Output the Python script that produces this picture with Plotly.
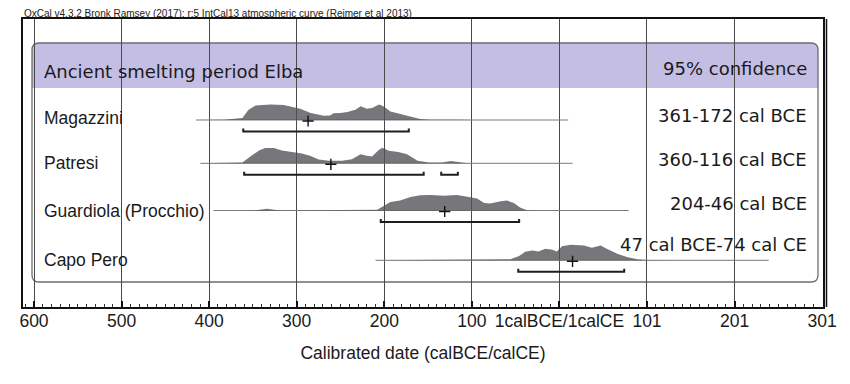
import plotly.graph_objects as go

# ---------------- data ----------------
sites = ["Magazzini", "Patresi", "Guardiola (Procchio)", "Capo Pero"]
range_labels = ["361-172 cal BCE", "360-116 cal BCE", "204-46 cal BCE", "47 cal BCE-74 cal CE"]

tick_vals = [-600, -500, -400, -300, -200, -100, 0, 100, 200, 300]
tick_text = ["600", "500", "400", "300", "200", "100", "1calBCE/1calCE", "101", "201", "301"]

# calibrated probability distributions (year: negative = BCE), relative probability
mag_years = [-415, -383, -362, -355, -347, -330, -315, -303, -296, -284, -269, -262, -258, -250,
             -242, -233, -227, -220, -214, -206, -201, -193, -182, -170, -159, -147, -130, -115, -100]
mag_prob = [0, 0.3, 2, 10, 14, 15, 14.5, 12.5, 11, 6.7, 4, 4.3, 6.5, 6.8,
            7.7, 10, 13.3, 11, 11.7, 15, 13.3, 8.3, 5.7, 3.3, 1, 0.3, 0.5, 0.3, 0]

pat_years = [-410, -362, -351, -343, -336, -326, -317, -305, -294, -284, -275, -263, -248, -237,
             -227, -220, -214, -206, -202, -195, -184, -174, -162, -149, -134, -124, -115, -105]
pat_prob = [0, 0.7, 8.3, 13.3, 15.7, 15.7, 13.3, 11.7, 10, 7.5, 4, 2.7, 2.7, 4.3,
            9.3, 7.7, 7, 14, 16, 13, 11.7, 9.3, 2.7, 0.7, 0.7, 2.3, 1, 0]

gua_years = [-395, -349, -334, -319, -208, -201, -193, -182, -170, -159, -147, -132, -117, -105,
             -94, -86, -79, -67, -60, -52, -45, -37, -30]
gua_prob = [0, 0, 1.7, 0, 0.7, 4, 8.3, 9.7, 13, 14.7, 15, 14.3, 15, 13.3,
            11.7, 7.3, 6.7, 9, 9.7, 7.3, 3, 0.3, 0]

cap_years = [-210, -102, -56, -46, -39, -31, -24, -16, -8, -3, 3, 13, 28, 37, 47, 54, 66, 77, 89,
             100, 120, 135]
cap_prob = [0, 0.3, 1, 4.3, 8.7, 10, 9, 11.7, 10.7, 9, 14.3, 15.7, 15, 12.7, 15, 11.7, 6.7, 3.3, 1,
            0.3, 0.2, 0]

curve_years = [mag_years, pat_years, gua_years, cap_years]
curve_probs = [mag_prob, pat_prob, gua_prob, cap_prob]
curve_start = [-415, -410, -395, -210]
curve_end = [10, 15, 79, 239]
hpd_ranges = [[(-361, -172)], [(-360, -155), (-135, -116)], [(-204, -46)], [(-47, 74)]]
means = [-287, -261, -131, 15]

# ---------------- layout helpers (pixel geometry) ----------------
W, H = 850, 384
L, R, T, B = 23, 823, 19, 307
PX_PER_YEAR = (R - 34) / 901.0
ZERO_PX = 34 + 600 * PX_PER_YEAR


def X(px):
    return (px - ZERO_PX) / PX_PER_YEAR


def Y(py):
    return B - py


row_base = [120, 163.3, 210.5, 260.3]
label_y = [118, 163, 211, 260]
right_y = [115, 159, 203, 244]
peak_h = 15.5

fig = go.Figure()

for i in range(len(sites)):
    base = Y(row_base[i])
    yrs = curve_years[i]
    pr = curve_probs[i]
    mx = max(pr)
    top = [base + p / mx * peak_h for p in pr]
    # baseline
    fig.add_trace(go.Scatter(x=[curve_start[i], curve_end[i]], y=[base, base], mode="lines",
                             line=dict(color="#7a7a7a", width=1), hoverinfo="skip", showlegend=False))
    # distribution
    fig.add_trace(go.Scatter(x=yrs + yrs[::-1], y=top + [base] * len(yrs), mode="lines",
                             fill="toself", fillcolor="rgba(80,80,86,0.78)",
                             line=dict(width=0, color="rgba(0,0,0,0)"),
                             hoverinfo="skip", showlegend=False))
    # 95% ranges
    by = base - 11.5
    for a, b in hpd_ranges[i]:
        fig.add_trace(go.Scatter(x=[a, a, b, b], y=[by + 3, by, by, by + 3], mode="lines",
                                 line=dict(color="#1e1e1e", width=2), hoverinfo="skip",
                                 showlegend=False))
    # mean
    fig.add_trace(go.Scatter(x=[means[i]], y=[base - 1], mode="markers",
                             marker=dict(symbol="cross-thin", size=8, line=dict(color="#111", width=1.4)),
                             hoverinfo="skip", showlegend=False))


def rounded(x0p, x1p, y0p, y1p, r, top_only=False):
    x0, x1 = X(x0p), X(x1p)
    yt, yb = Y(y0p), Y(y1p)
    rx = r / PX_PER_YEAR
    ry = r
    if top_only:
        return (f"M {x0},{yb} L {x0},{yt - ry} Q {x0},{yt} {x0 + rx},{yt} "
                f"L {x1 - rx},{yt} Q {x1},{yt} {x1},{yt - ry} L {x1},{yb} Z")
    return (f"M {x0 + rx},{yt} L {x1 - rx},{yt} Q {x1},{yt} {x1},{yt - ry} "
            f"L {x1},{yb + ry} Q {x1},{yb} {x1 - rx},{yb} L {x0 + rx},{yb} "
            f"Q {x0},{yb} {x0},{yb + ry} L {x0},{yt - ry} Q {x0},{yt} {x0 + rx},{yt} Z")


shapes = [
    dict(type="path", path=rounded(32, 818, 43, 88, 7, top_only=True), xref="x", yref="y",
         fillcolor="#c5bee4", line=dict(width=0), layer="below"),
    dict(type="path", path=rounded(32, 818, 43, 282, 7), xref="x", yref="y",
         fillcolor="rgba(0,0,0,0)", line=dict(color="#6e6e6e", width=1.3), layer="below"),
    dict(type="line", xref="paper", yref="paper", x0=1 + 3.5 / (R - L), x1=1 + 3.5 / (R - L),
         y0=0, y1=1, line=dict(color="#111", width=1.5)),
]

annotations = [
    dict(text="OxCal v4.3.2 Bronk Ramsey (2017); r:5 IntCal13 atmospheric curve (Reimer et al 2013)",
         xref="paper", yref="paper", x=0, y=1, xanchor="left", yanchor="bottom", showarrow=False,
         font=dict(family="Liberation Sans, Arial", size=10, color="#222"), borderpad=0, yshift=-1),
    dict(text="Ancient smelting period Elba", xref="x", yref="y", x=X(42), y=Y(71),
         xanchor="left", yanchor="middle", showarrow=False,
         font=dict(family="DejaVu Sans", size=18, color="#1a1a1a")),
    dict(text="95% confidence", xref="x", yref="y", x=X(809), y=Y(68),
         xanchor="right", yanchor="middle", showarrow=False,
         font=dict(family="DejaVu Sans", size=18, color="#1a1a1a")),
]
for i in range(len(sites)):
    annotations.append(dict(text=sites[i], xref="x", yref="y", x=X(42), y=Y(label_y[i]),
                            xanchor="left", yanchor="middle", showarrow=False,
                            font=dict(family="Liberation Sans, Arial", size=17.5, color="#1a1a1a")))
    annotations.append(dict(text=range_labels[i], xref="x", yref="y", x=X(809), y=Y(right_y[i]),
                            xanchor="right", yanchor="middle", showarrow=False,
                            font=dict(family="DejaVu Sans", size=18, color="#1a1a1a")))

fig.update_layout(
    width=W, height=H,
    margin=dict(l=L, r=W - R, t=T, b=H - B),
    paper_bgcolor="white", plot_bgcolor="white",
    showlegend=False,
    shapes=shapes, annotations=annotations,
    xaxis=dict(range=[X(L), X(R)], tickmode="array", tickvals=tick_vals, ticktext=tick_text,
               ticks="inside", ticklen=6, tickwidth=1.5, tickcolor="#111",
               minor=dict(dtick=10, tick0=0, ticks="inside", ticklen=3, tickwidth=1, tickcolor="#333",
                          showgrid=False),
               showgrid=True, gridcolor="#4a4a4a", gridwidth=1.3, zeroline=False,
               showline=True, linecolor="#111", linewidth=2, mirror=True,
               ticklabelstandoff=-3,
               tickfont=dict(family="Liberation Sans, Arial", size=17.5, color="#1a1a1a"),
               title=dict(text="Calibrated date (calBCE/calCE)", standoff=17,
                          font=dict(family="Liberation Sans, Arial", size=17.5, color="#1a1a1a"))),
    yaxis=dict(range=[0, B - T], showticklabels=False, ticks="", showgrid=False, zeroline=False,
               showline=True, linecolor="#111", linewidth=2, mirror=True, fixedrange=True),
)

fig.write_html("out.html", config={"displayModeBar": False},
               post_script="document.body.style.margin='0';document.body.style.padding='0';")
